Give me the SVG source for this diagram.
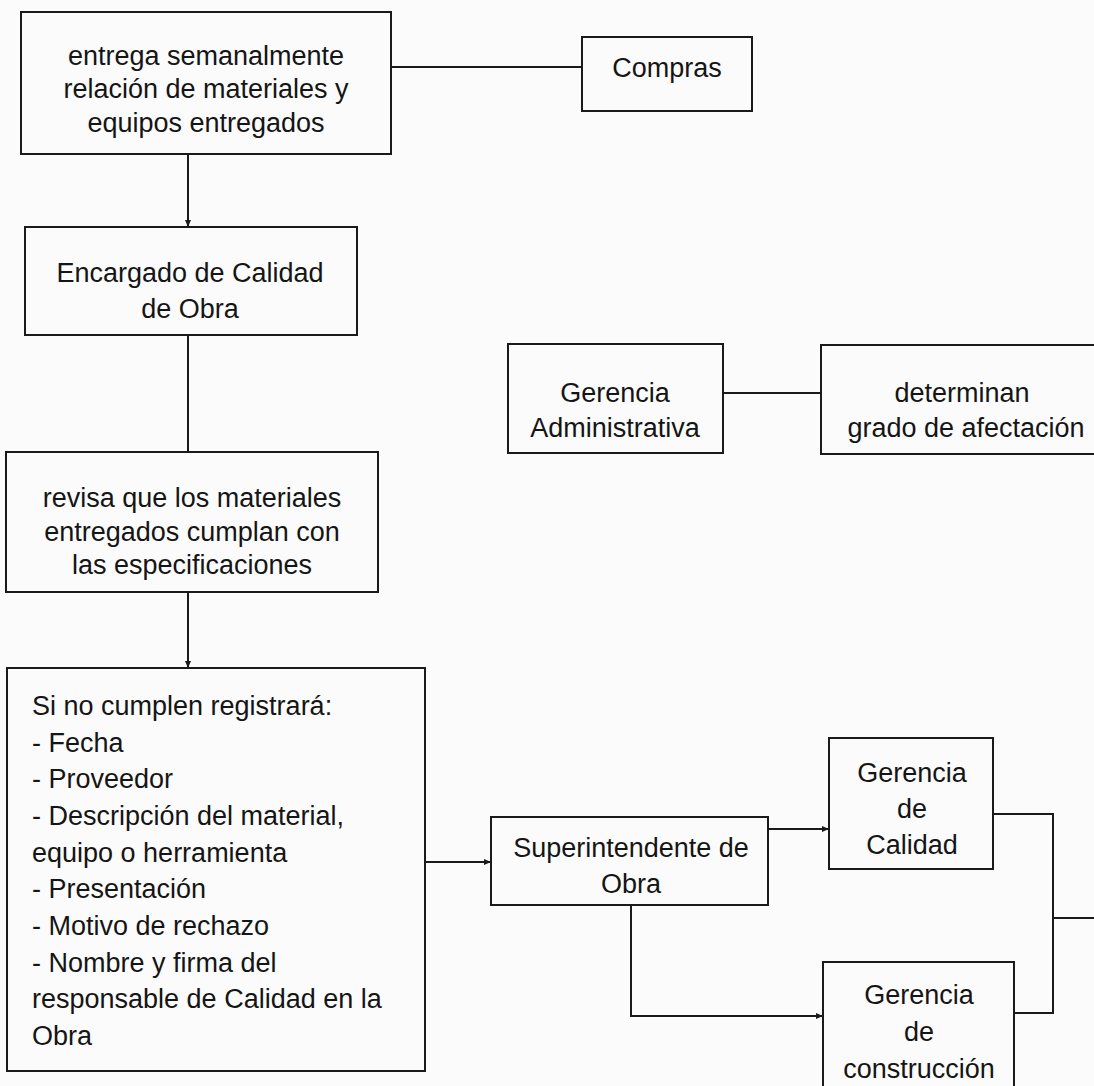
<svg xmlns="http://www.w3.org/2000/svg" width="1094" height="1086" viewBox="0 0 1094 1086">
  <style>
    .box { fill: none; stroke: #1a1a1a; stroke-width: 2; }
    .wire { fill: none; stroke: #1a1a1a; stroke-width: 2; }
    .t { font-family: "Liberation Sans", Arial, sans-serif; font-size: 27px; fill: #151515; }
    .c { text-anchor: middle; }
  </style>
  <defs>
    <marker id="arrow" markerWidth="8" markerHeight="8" refX="7" refY="4" orient="auto" markerUnits="userSpaceOnUse">
      <path d="M0,1 L7,4 L0,7 Z" fill="#1a1a1a"/>
    </marker>
  </defs>
  <rect width="1094" height="1086" fill="#fbfbfb"/>

  <!-- connectors -->
  <g id="connectors">
    <line class="wire" x1="391" y1="67" x2="582" y2="67"/>
    <line class="wire" x1="188" y1="154" x2="188" y2="227" marker-end="url(#arrow)"/>
    <line class="wire" x1="188" y1="335" x2="188" y2="452"/>
    <line class="wire" x1="188" y1="592" x2="188" y2="668" marker-end="url(#arrow)"/>
    <line class="wire" x1="723" y1="393" x2="821" y2="393"/>
    <line class="wire" x1="424" y1="862" x2="491" y2="862" marker-end="url(#arrow)"/>
    <line class="wire" x1="768" y1="829" x2="829" y2="829" marker-end="url(#arrow)"/>
    <polyline class="wire" points="631,905 631,1016 823,1016" marker-end="url(#arrow)"/>
    <polyline class="wire" points="993,814 1053,814 1053,1013 1014,1013"/>
    <line class="wire" x1="1053" y1="918" x2="1094" y2="918"/>
  </g>

  <g id="entrega">
    <rect class="box" x="21" y="12" width="370" height="142"/>
    <text class="t c" x="206" y="65">entrega semanalmente</text>
    <text class="t c" x="206" y="98">relación de materiales y</text>
    <text class="t c" x="206" y="132">equipos entregados</text>
  </g>

  <g id="compras">
    <rect class="box" x="582" y="37" width="170" height="74"/>
    <text class="t c" x="667" y="77">Compras</text>
  </g>

  <g id="encargado">
    <rect class="box" x="25" y="227" width="332" height="108"/>
    <text class="t c" x="190" y="282">Encargado de Calidad</text>
    <text class="t c" x="190" y="318">de Obra</text>
  </g>

  <g id="revisa">
    <rect class="box" x="6" y="452" width="372" height="140"/>
    <text class="t c" x="192" y="507">revisa que los materiales</text>
    <text class="t c" x="192" y="541">entregados cumplan con</text>
    <text class="t c" x="192" y="574">las especificaciones</text>
  </g>

  <g id="registro">
    <rect class="box" x="7" y="668" width="418" height="403"/>
    <text class="t" x="32" y="715">Si no cumplen registrará:</text>
    <text class="t" x="32" y="752">- Fecha</text>
    <text class="t" x="32" y="788">- Proveedor</text>
    <text class="t" x="32" y="825">- Descripción del material,</text>
    <text class="t" x="32" y="862">equipo o herramienta</text>
    <text class="t" x="32" y="898">- Presentación</text>
    <text class="t" x="32" y="935">- Motivo de rechazo</text>
    <text class="t" x="32" y="972">- Nombre y firma del</text>
    <text class="t" x="32" y="1008">responsable de Calidad en la</text>
    <text class="t" x="32" y="1045">Obra</text>
  </g>

  <g id="gerencia-administrativa">
    <rect class="box" x="508" y="344" width="215" height="109"/>
    <text class="t c" x="615" y="402">Gerencia</text>
    <text class="t c" x="615" y="437">Administrativa</text>
  </g>

  <g id="determinan">
    <rect class="box" x="821" y="345" width="290" height="109"/>
    <text class="t c" x="962" y="402">determinan</text>
    <text class="t c" x="966" y="437">grado de afectación</text>
  </g>

  <g id="superintendente">
    <rect class="box" x="491" y="817" width="277" height="88"/>
    <text class="t c" x="631" y="857">Superintendente de</text>
    <text class="t c" x="631" y="893">Obra</text>
  </g>

  <g id="gerencia-calidad">
    <rect class="box" x="829" y="738" width="164" height="131"/>
    <text class="t c" x="912" y="782">Gerencia</text>
    <text class="t c" x="912" y="818">de</text>
    <text class="t c" x="912" y="854">Calidad</text>
  </g>

  <g id="gerencia-construccion">
    <rect class="box" x="823" y="962" width="191" height="140"/>
    <text class="t c" x="919" y="1004">Gerencia</text>
    <text class="t c" x="919" y="1041">de</text>
    <text class="t c" x="919" y="1078">construcción</text>
  </g>
</svg>
